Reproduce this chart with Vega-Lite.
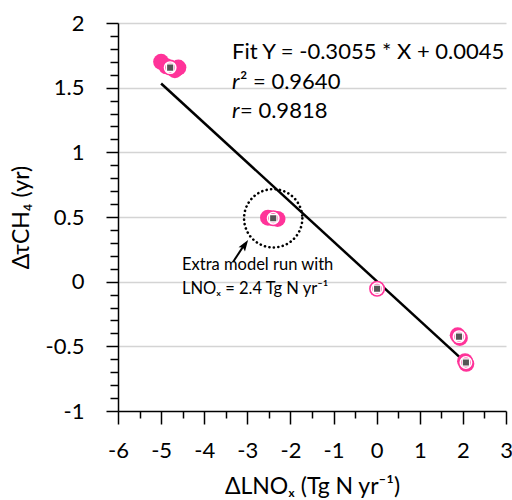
{
  "$schema": "https://vega.github.io/schema/vega-lite/v6.json",
  "width": 388,
  "height": 388,
  "autosize": {"type": "none"},
  "padding": {"left": 118, "top": 23, "right": 6, "bottom": 89},
  "background": "white",
  "config": {
    "view": {"stroke": null},
    "font": "Lato",
    "axis": {
      "domainColor": "black",
      "domainWidth": 1.5,
      "tickColor": "black",
      "tickWidth": 1.5,
      "labelFont": "Lato",
      "labelFontSize": 22,
      "labelColor": "black",
      "titleFont": "Lato",
      "titleFontSize": 23,
      "titleFontWeight": "normal",
      "titleColor": "black"
    }
  },
  "datasets": {
    "main": [
      {"x": -4.79, "y": 1.655},
      {"x": -2.40, "y": 0.49},
      {"x": 0.01, "y": -0.055},
      {"x": 1.91, "y": -0.425},
      {"x": 2.07, "y": -0.625}
    ],
    "members": [
      {"x": -5.0, "y": 1.70},
      {"x": -4.88, "y": 1.665},
      {"x": -4.79, "y": 1.655},
      {"x": -4.6, "y": 1.655},
      {"x": -4.68, "y": 1.635},
      {"x": -2.52, "y": 0.495},
      {"x": -2.40, "y": 0.49},
      {"x": -2.30, "y": 0.485},
      {"x": 0.01, "y": -0.055},
      {"x": 1.88, "y": -0.415},
      {"x": 1.93, "y": -0.435},
      {"x": 2.05, "y": -0.615},
      {"x": 2.08, "y": -0.635}
    ],
    "fit": [
      {"x": -5.0, "y": 1.532},
      {"x": 2.07, "y": -0.628}
    ],
    "arrow": [
      {"x": -3.332, "y": 0.152, "x2": -3.06, "y2": 0.29}
    ],
    "head": [
      {"x": -3.074, "y": 0.277}
    ],
    "fitText": [
      {"x": -3.355, "y": 1.722, "label": "Fit Y = -0.3055 * X + 0.0045"}
    ],
    "rText": [
      {"x": -3.355, "y": 1.49, "label": "r"},
      {"x": -3.355, "y": 1.265, "label": "r"}
    ],
    "rValues": [
      {"x": -3.355, "y": 1.49, "label": "² = 0.9640"},
      {"x": -3.355, "y": 1.265, "label": " = 0.9818"}
    ],
    "note": [
      {"x": -4.515, "y": 0.09, "label": "Extra model run with"},
      {"x": -4.515, "y": -0.096, "label": "LNOₓ = 2.4 Tg N yr⁻¹"}
    ]
  },
  "layer": [
    {
      "data": {"name": "fit"},
      "mark": {"type": "line", "color": "black", "strokeWidth": 2.5},
      "encoding": {
        "x": {
          "field": "x",
          "type": "quantitative",
          "scale": {"domain": [-6, 3], "nice": false, "zero": false},
          "axis": {
            "title": "ΔLNOₓ (Tg N yr⁻¹)",
            "values": [-6, -5.5, -5, -4.5, -4, -3.5, -3, -2.5, -2, -1.5, -1, -0.5, 0, 0.5, 1, 1.5, 2, 2.5, 3],
            "tickCount": 200,
            "labelExpr": "datum.value % 1 == 0 ? toString(datum.value) : ''",
            "tickSize": {"condition": {"test": "datum.value % 1 == 0", "value": 13}, "value": 7},
            "labelPadding": 16,
            "labelFlush": false,
            "labelOverlap": false,
            "grid": false,
            "titlePadding": 14
          }
        },
        "y": {
          "field": "y",
          "type": "quantitative",
          "scale": {"domain": [-1, 2], "nice": false, "zero": false},
          "axis": {
            "title": "ΔτCH₄ (yr)",
            "values": [-1, -0.9, -0.8, -0.7, -0.6, -0.5, -0.4, -0.3, -0.2, -0.1, 0, 0.1, 0.2, 0.3, 0.4, 0.5, 0.6, 0.7, 0.8, 0.9, 1, 1.1, 1.2, 1.3, 1.4, 1.5, 1.6, 1.7, 1.8, 1.9, 2],
            "tickCount": 200,
            "labelExpr": "abs(datum.value * 2 - round(datum.value * 2)) < 0.001 ? toString(datum.value) : ''",
            "tickSize": {"condition": {"test": "abs(datum.value * 2 - round(datum.value * 2)) < 0.001", "value": 12}, "value": 8},
            "labelPadding": 22,
            "labelFlush": false,
            "labelOverlap": false,
            "grid": true,
            "gridColor": "#d4d4d4",
            "gridWidth": 1.5,
            "gridOpacity": {"condition": {"test": "abs(datum.value * 2 - round(datum.value * 2)) < 0.001 && datum.value > -0.99", "value": 1}, "value": 0},
            "titlePadding": 12
          }
        }
      }
    },
    {
      "data": {"name": "members"},
      "mark": {"type": "point", "shape": "circle", "filled": true, "color": "#ff3399", "opacity": 1, "size": 256},
      "encoding": {
        "x": {"field": "x", "type": "quantitative"},
        "y": {"field": "y", "type": "quantitative"}
      }
    },
    {
      "data": {"name": "main"},
      "mark": {"type": "point", "shape": "circle", "filled": false, "stroke": "white", "strokeWidth": 1.5, "opacity": 1, "size": 130},
      "encoding": {
        "x": {"field": "x", "type": "quantitative"},
        "y": {"field": "y", "type": "quantitative"}
      }
    },
    {
      "data": {"name": "main"},
      "mark": {"type": "point", "shape": "square", "filled": true, "fill": "#555555", "stroke": "white", "strokeWidth": 1.3, "opacity": 1, "size": 55},
      "encoding": {
        "x": {"field": "x", "type": "quantitative"},
        "y": {"field": "y", "type": "quantitative"}
      }
    },
    {
      "data": {"name": "main"},
      "transform": [{"filter": "datum.x < -2 && datum.x > -3"}],
      "mark": {"type": "point", "shape": "circle", "filled": false, "stroke": "black", "strokeWidth": 2.6, "strokeDash": [0.1, 4.4], "strokeCap": "round", "opacity": 1, "size": 3400},
      "encoding": {
        "x": {"field": "x", "type": "quantitative"},
        "y": {"field": "y", "type": "quantitative"}
      }
    },
    {
      "data": {"name": "arrow"},
      "mark": {"type": "rule", "color": "black", "strokeWidth": 2},
      "encoding": {
        "x": {"field": "x", "type": "quantitative"},
        "y": {"field": "y", "type": "quantitative"},
        "x2": {"field": "x2"},
        "y2": {"field": "y2"}
      }
    },
    {
      "data": {"name": "head"},
      "mark": {"type": "point", "shape": "M0,-1L0.55,0.6L0,0.3L-0.55,0.6Z", "filled": true, "color": "black", "opacity": 1, "size": 200, "angle": 34},
      "encoding": {
        "x": {"field": "x", "type": "quantitative"},
        "y": {"field": "y", "type": "quantitative"}
      }
    },
    {
      "data": {"name": "fitText"},
      "mark": {"type": "text", "align": "left", "baseline": "alphabetic", "fontSize": 22, "font": "Lato", "color": "black"},
      "encoding": {
        "x": {"field": "x", "type": "quantitative"},
        "y": {"field": "y", "type": "quantitative"},
        "text": {"field": "label"}
      }
    },
    {
      "data": {"name": "rText"},
      "mark": {"type": "text", "align": "left", "baseline": "alphabetic", "fontSize": 22, "font": "Lato", "fontStyle": "italic", "color": "black"},
      "encoding": {
        "x": {"field": "x", "type": "quantitative"},
        "y": {"field": "y", "type": "quantitative"},
        "text": {"field": "label"}
      }
    },
    {
      "data": {"name": "rValues"},
      "mark": {"type": "text", "align": "left", "baseline": "alphabetic", "fontSize": 22, "font": "Lato", "color": "black", "dx": 8},
      "encoding": {
        "x": {"field": "x", "type": "quantitative"},
        "y": {"field": "y", "type": "quantitative"},
        "text": {"field": "label"}
      }
    },
    {
      "data": {"name": "note"},
      "mark": {"type": "text", "align": "left", "baseline": "alphabetic", "fontSize": 16.5, "font": "Lato", "color": "black"},
      "encoding": {
        "x": {"field": "x", "type": "quantitative"},
        "y": {"field": "y", "type": "quantitative"},
        "text": {"field": "label"}
      }
    }
  ]
}
